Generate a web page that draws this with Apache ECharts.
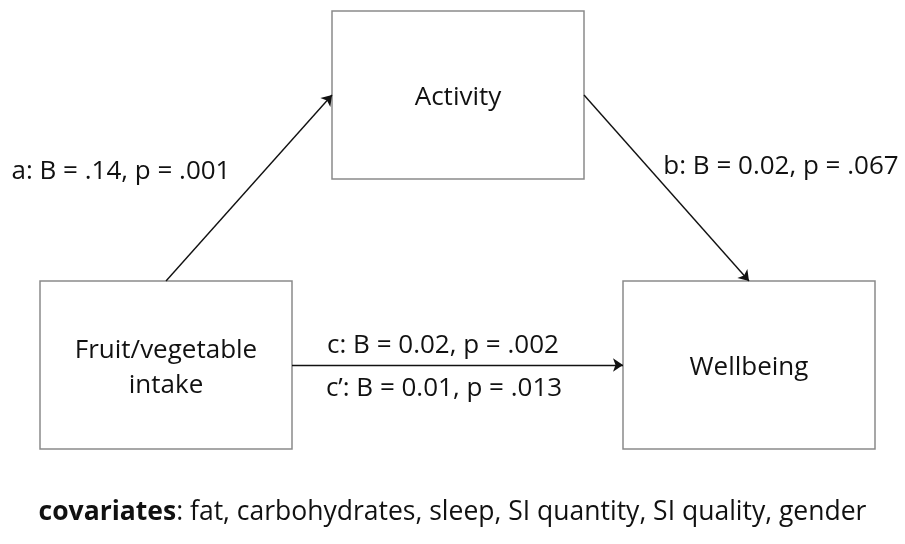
<!DOCTYPE html>
<html>
<head>
<meta charset="utf-8">
<script src="https://cdn.jsdelivr.net/npm/echarts@6/dist/echarts.min.js"></script>
<style>
  html, body { margin: 0; padding: 0; background: #fff; }
  #main { width: 905px; height: 544px; }
</style>
</head>
<body>
<div id="main"></div>
<script>
// nodes of the mediation model (centre positions in diagram units)
const nodeNames = ['Activity', 'Fruit/vegetable\nintake', 'Wellbeing'];
const nodeX = [458, 166, 749];
const nodeY = [95, 365, 365];
const boxW = 252, boxH = 168;

// paths: from -> to, with their estimates
const edgeFrom = [1, 0, 1];
const edgeTo = [0, 2, 2];
const pathLabels = ['a: B = .14, p = .001', 'b: B = 0.02, p = .067', 'c: B = 0.02, p = .002', 'c\u2019: B = 0.01, p = .013'];
const labelX = [121, 781, 443, 444];
const labelY = [172, 167, 346, 389];

const covariates = ['fat', 'carbohydrates', 'sleep', 'SI quantity', 'SI quality', 'gender'];

const FONT = '"Open Sans"';

// anchor point of an edge on a box side
function anchor(i, side) {
  const x = nodeX[i], y = nodeY[i];
  if (side === 'top') return [x, y - boxH / 2];
  if (side === 'left') return [x - boxW / 2, y];
  if (side === 'right') return [x + boxW / 2, y];
  return [x, y + boxH / 2];
}

const edgeData = edgeFrom.map(function (f, k) {
  const t = edgeTo[k];
  let p0, p1;
  if (nodeY[f] > nodeY[t]) { p0 = anchor(f, 'top'); p1 = anchor(t, 'left'); }
  else if (nodeY[f] < nodeY[t]) { p0 = anchor(f, 'right'); p1 = anchor(t, 'top'); }
  else { p0 = anchor(f, 'right'); p1 = anchor(t, 'left'); }
  return { coords: [p0, p1] };
});

const myChart = echarts.init(document.getElementById('main'));
const option = {
  backgroundColor: '#fff',
  animation: false,
  grid: { left: 0, right: 0, top: 0, bottom: 0 },
  xAxis: { type: 'value', min: 0, max: 905, show: false },
  yAxis: { type: 'value', min: 0, max: 544, inverse: true, show: false },
  series: [
    {
      type: 'custom',
      data: nodeNames.map(function (n, i) { return [nodeX[i], nodeY[i], n]; }),
      renderItem: function (params, api) {
        const c = api.coord([api.value(0), api.value(1)]);
        const tl = api.coord([api.value(0) - boxW / 2, api.value(1) - boxH / 2]);
        const br = api.coord([api.value(0) + boxW / 2, api.value(1) + boxH / 2]);
        return {
          type: 'group',
          children: [
            {
              type: 'rect',
              shape: { x: tl[0], y: tl[1], width: br[0] - tl[0], height: br[1] - tl[1] },
              style: { fill: '#fff', stroke: '#8a8a8a', lineWidth: 1.5 }
            },
            {
              type: 'text',
              style: {
                x: c[0], y: c[1] + 3,
                text: nodeNames[params.dataIndex],
                align: 'center', verticalAlign: 'middle',
                font: '26px ' + FONT, fill: '#111', lineHeight: 35
              }
            }
          ]
        };
      }
    },
    {
      type: 'lines',
      coordinateSystem: 'cartesian2d',
      symbol: ['none', 'arrow'],
      symbolSize: 10,
      lineStyle: { color: '#111', width: 1.4, opacity: 1 },
      data: edgeData
    },
    {
      type: 'custom',
      data: pathLabels.map(function (l, i) { return [labelX[i], labelY[i]]; }),
      renderItem: function (params, api) {
        const c = api.coord([api.value(0), api.value(1)]);
        return {
          type: 'text',
          style: {
            x: c[0], y: c[1],
            text: pathLabels[params.dataIndex],
            align: 'center', verticalAlign: 'middle',
            font: '26px ' + FONT, fill: '#111'
          }
        };
      }
    }
  ],
  graphic: [
    {
      type: 'text',
      left: 'center',
      top: 499,
      style: {
        text: '{b|covariates}: ' + covariates.join(', '),
        font: '26.5px ' + FONT,
        fill: '#111',
        rich: { b: { fontWeight: 'bold', fontSize: 26.5, fontFamily: 'Open Sans', fill: '#111' } }
      }
    }
  ]
};
myChart.setOption(option);
window.addEventListener('resize', function () {
  myChart.resize();
});
</script>
</body>
</html>
